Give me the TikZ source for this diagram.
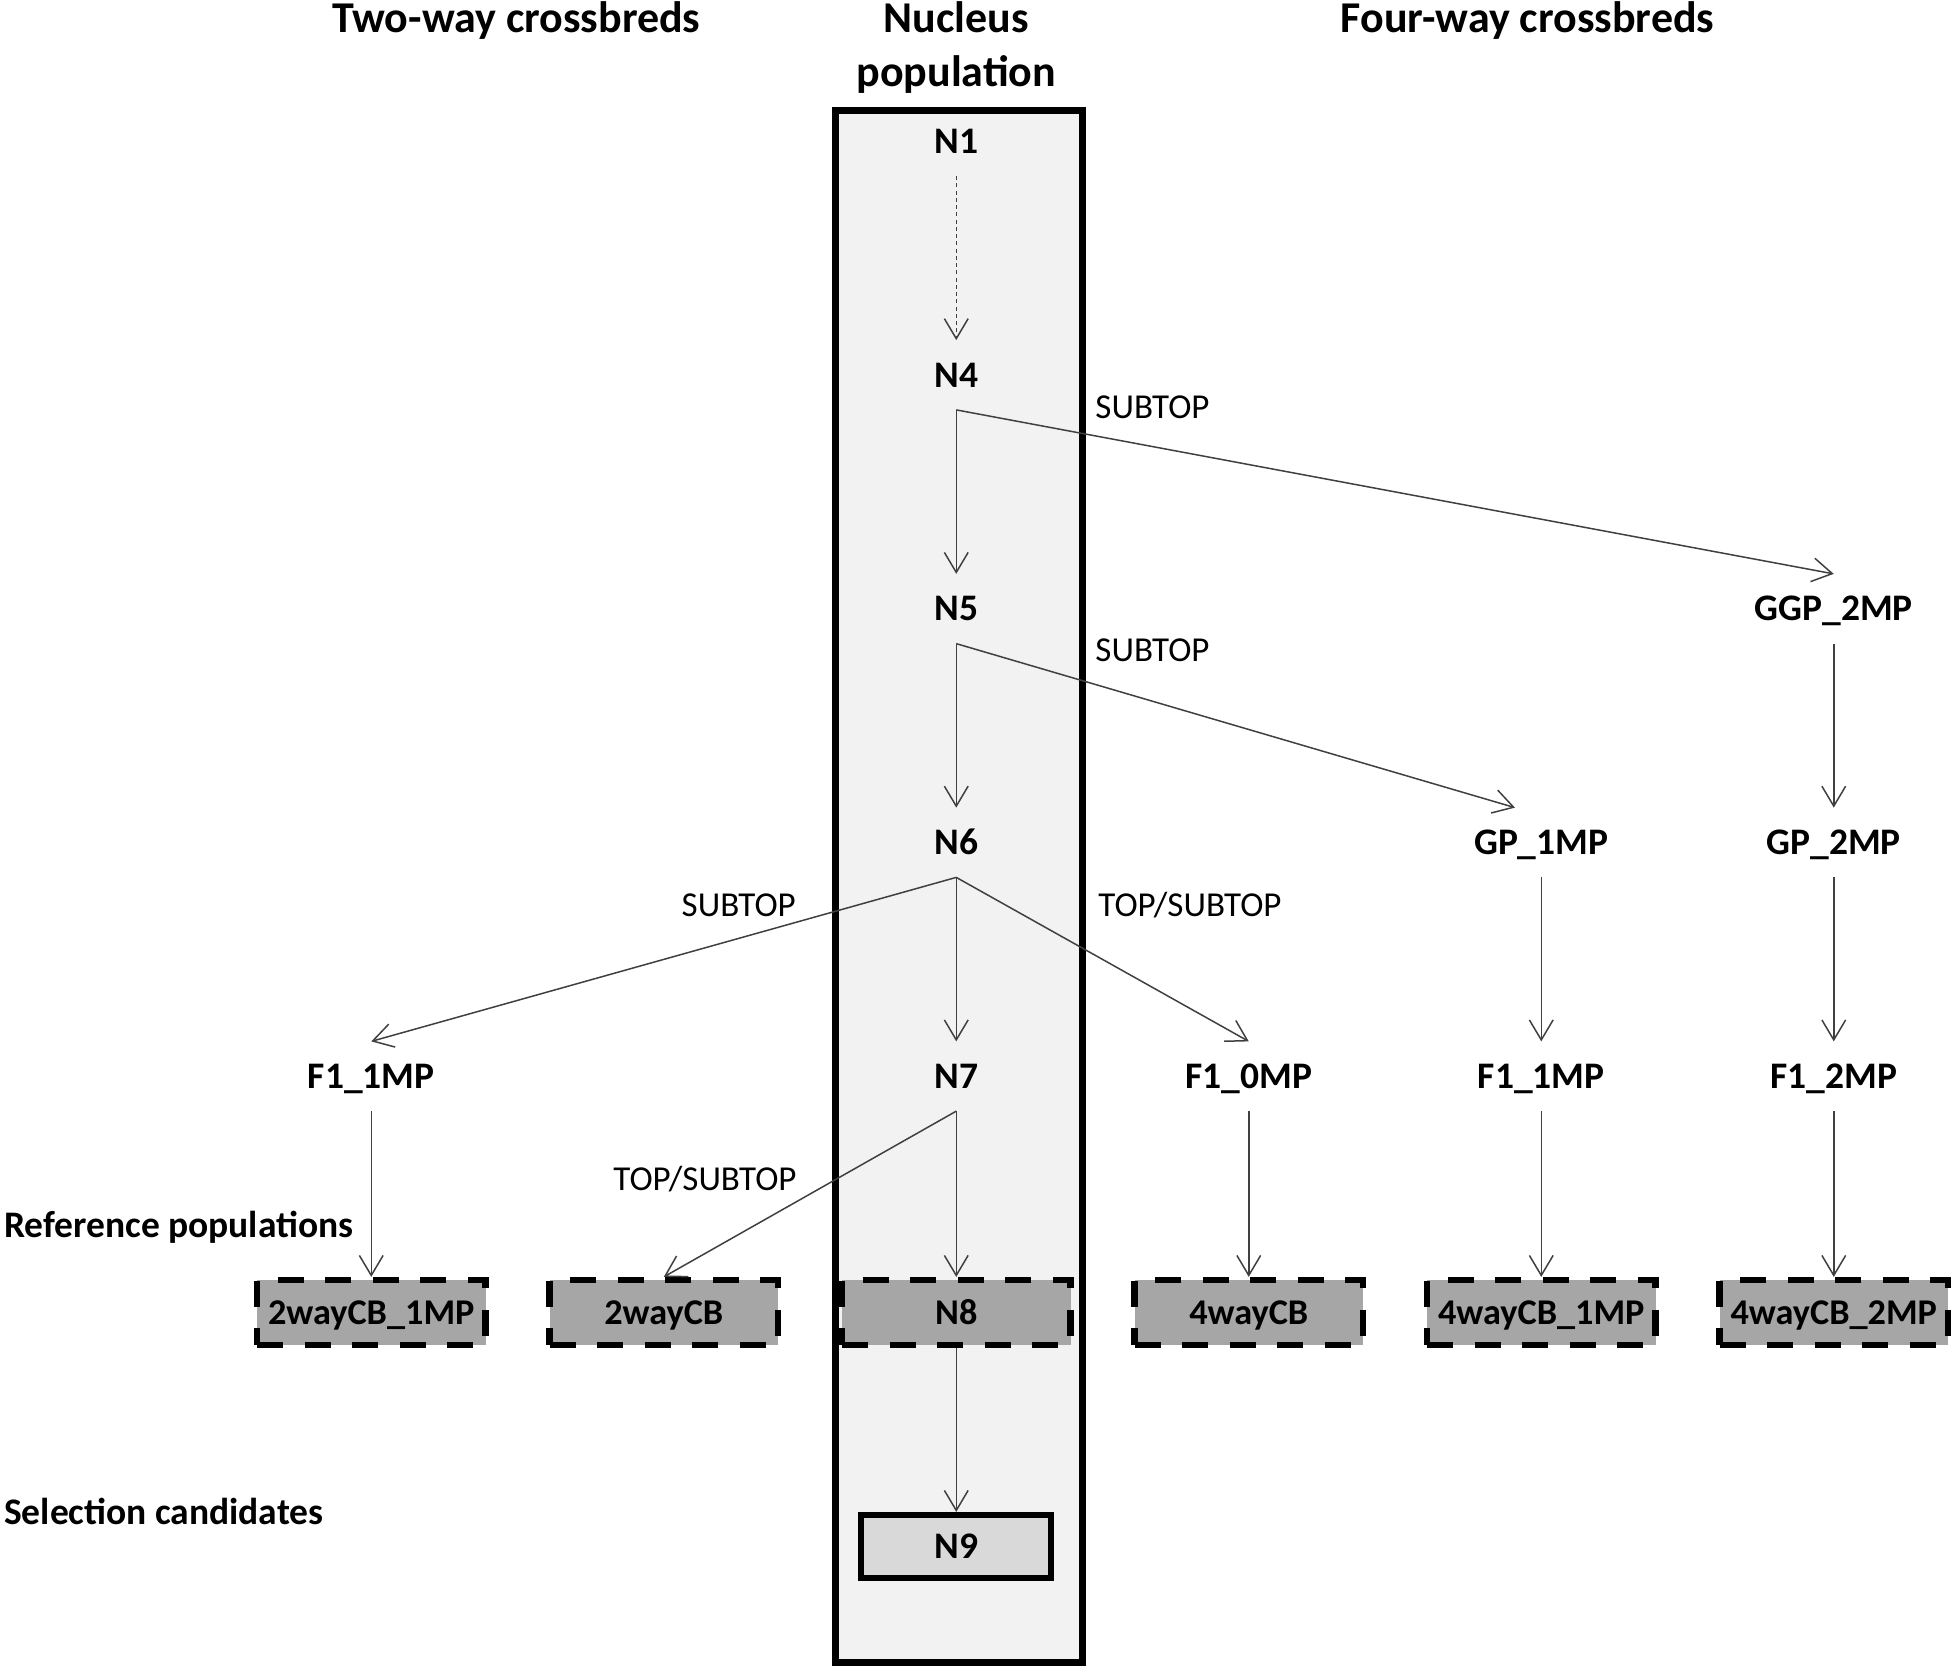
\documentclass[tikz,border=0pt]{standalone}
\usepackage{fontspec}
\setmainfont{Carlito}
\usetikzlibrary{positioning,arrows.meta}

\definecolor{nucfill}{HTML}{F2F2F2}
\definecolor{reffill}{HTML}{A6A6A6}
\definecolor{candfill}{HTML}{D9D9D9}
\definecolor{linegray}{HTML}{404040}

\begin{document}
\begin{tikzpicture}[x=0.5pt, y=-0.5pt, node distance=93.5pt and 117pt, on grid,
  >={Straight Barb[length=8pt,width=9.5pt]},
  pop/.style={font=\fontsize{15}{18}\selectfont\bfseries, inner sep=0pt,
    text height=9.6pt, text depth=0pt, minimum height=27.5pt},
  refbox/.style={pop, font=\fontsize{14.5}{17}\selectfont\bfseries, text height=9.3pt,
    draw=black, fill=reffill, line width=2.6pt,
    dash pattern=on 10.5pt off 8.5pt, minimum width=91.4pt, minimum height=25.9pt},
  candbox/.style={pop, draw=black, fill=candfill, line width=2.4pt,
    minimum width=76.1pt, minimum height=25.1pt},
  head/.style={font=\fontsize{17.6}{21.5}\selectfont\bfseries, inner sep=0pt, align=center},
  lab/.style={font=\fontsize{14}{17}\selectfont, inner sep=0pt, text height=9pt, text depth=0pt},
  side/.style={pop, anchor=west, minimum height=0pt},
  flow/.style={->, draw=linegray, line width=0.6pt}]

  \useasboundingbox (0,0) rectangle (1568,1340);

  % nucleus column
  \draw[fill=nucfill, line width=2.8pt] (668,88) rectangle (866,1330);

  % headings
  \node[head, text height=11.3pt, text depth=0pt] (h2way) at (413,15) {Two-way crossbreds};
  \node[head] (hnuc) at (765,38) {Nucleus\\population};
  \node[head, text height=11.3pt, text depth=0pt] (h4way) at (1222,15) {Four-way crossbreds};

  \node[side] (refpop) at (3,980) {Reference populations};
  \node[side] (selcand) at (3,1210) {Selection candidates};

  % nucleus
  \node[pop] (n1) at (765,113) {N1};
  \node[pop] (n4) [below=of n1] {N4};
  \node[pop] (n5) [below=of n4] {N5};
  \node[pop] (n6) [below=of n5] {N6};
  \node[pop] (n7) [below=of n6] {N7};
  \node[refbox] (n8) [below=94.5pt of n7] {N8};
  \node[candbox] (n9) [below=of n8] {N9};

  % crossbreds
  \node[pop] (f1zero) [right=of n7] {F1\_0MP};
  \node[pop] (f1four) [right=of f1zero] {F1\_1MP};
  \node[pop] (f1two) [right=of f1four] {F1\_2MP};
  \node[pop] (gp1) [above=of f1four] {GP\_1MP};
  \node[pop] (gp2) [above=of f1two] {GP\_2MP};
  \node[pop] (ggp2) [above=of gp2] {GGP\_2MP};
  \node[pop] (f1one) [left=234pt of n7] {F1\_1MP};

  % reference populations
  \node[refbox] (cb2a) [below=94.5pt of f1one] {2wayCB\_1MP};
  \node[refbox] (cb2) [right=of cb2a] {2wayCB};
  \node[refbox] (cb4) [below=94.5pt of f1zero] {4wayCB};
  \node[refbox] (cb4a) [below=94.5pt of f1four] {4wayCB\_1MP};
  \node[refbox] (cb4b) [below=94.5pt of f1two] {4wayCB\_2MP};

  \path (n1.south) edge[flow, dash pattern=on 1.6pt off 1.3pt] (n4.north);
  \path (n4.south) edge[flow] (n5.north) edge[flow] (ggp2.north);
  \path (n5.south) edge[flow] (n6.north) edge[flow] ([xshift=-10.5pt]gp1.north);
  \path (n6.south) edge[flow] (n7.north) edge[flow] (f1one.north) edge[flow] (f1zero.north);
  \path (n7.south) edge[flow] (n8.north) edge[flow] (cb2.north);
  \path (n8.south) edge[flow] (n9.north);
  \path (ggp2.south) edge[flow] (gp2.north);
  \path (gp1.south) edge[flow] (f1four.north);
  \path (gp2.south) edge[flow] (f1two.north);
  \path (f1one.south) edge[flow] (cb2a.north);
  \path (f1zero.south) edge[flow] (cb4.north);
  \path (f1four.south) edge[flow] (cb4a.north);
  \path (f1two.south) edge[flow] (cb4b.north);

  % edge labels
  \node[lab] (l4) at (922,326) {SUBTOP};
  \node[lab] (l5) at (922,520) {SUBTOP};
  \node[lab] (l6a) at (591,724) {SUBTOP};
  \node[lab] (l6b) at (952,724) {TOP/SUBTOP};
  \node[lab] (l7) at (564,943) {TOP/SUBTOP};
\end{tikzpicture}
\end{document}
